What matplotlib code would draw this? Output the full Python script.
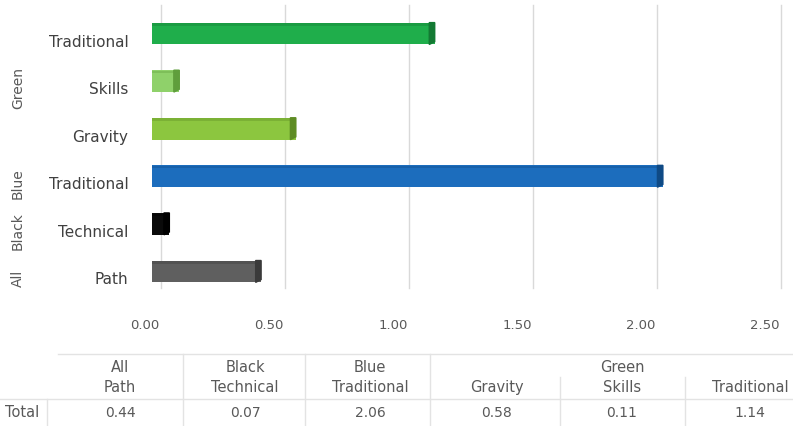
import matplotlib.pyplot as plt
from matplotlib.patches import Polygon
from matplotlib.transforms import ScaledTranslation
import numpy as np

plt.rcParams['font.family'] = ['DejaVu Sans']

# data (bottom to top as in the chart)
groups = ['All', 'Black', 'Blue', 'Green', 'Green', 'Green']
subcats = ['Path', 'Technical', 'Traditional', 'Gravity', 'Skills', 'Traditional']
values = [0.44, 0.07, 2.06, 0.58, 0.11, 1.14]
colors = ['#5f5f5f', '#0a0a0a', '#1c6dbd', '#8cc63f', '#8fd16a', '#1fae4b']
caps = ['#3a3a3a', '#000000', '#0f4a85', '#5e8c24', '#5f9e3c', '#137a33']
xticks = [0.0, 0.5, 1.0, 1.5, 2.0, 2.5]

W, H = 793, 427
fig = plt.figure(figsize=(W / 100, H / 100), dpi=100)
ax = fig.add_axes([152 / W, 1 - 301 / H, (772 - 152) / W, (301 - 6) / H])

def shift(dx, dy):
    return ScaledTranslation(dx / 100, dy / 100, fig.dpi_scale_trans)

y = np.arange(len(values))
ax.barh(y, values, height=0.46, color=colors, edgecolor='none', zorder=3)
# darker top strip and right end cap for the 3D look
cw = 0.022
for yi, v, c, cc in zip(y, values, colors, caps):
    ax.barh(yi + 0.19, v, height=0.05, color=cc, alpha=0.35, edgecolor='none', zorder=4)
    ax.add_patch(Polygon([[v - cw, yi - 0.23], [v, yi - 0.17], [v, yi + 0.23], [v - cw, yi + 0.23]],
                         closed=True, color=cc, zorder=5))

ax.set_xlim(0, 2.5)
ax.set_ylim(-0.6, 5.6)
ax.set_xticks(xticks)
ax.set_xticklabels([f'{t:.2f}' for t in xticks])
ax.set_yticks(y)
ax.set_yticklabels(subcats)
ax.tick_params(axis='x', length=0, pad=13, colors='#595959', labelsize=9.5)
ax.tick_params(axis='y', length=0, pad=17, colors='#404040', labelsize=11)
for lab in ax.get_xticklabels():
    lab.set_transform(lab.get_transform() + shift(-7, 0))
for lab in ax.get_yticklabels():
    lab.set_transform(lab.get_transform() + shift(0, -6))
# back-wall gridlines, set slightly right of the bar origin
for t in xticks:
    ax.plot([t, t], [0.04, 1.0], color='#d9d9d9', lw=1, zorder=0, clip_on=False,
            transform=ax.get_xaxis_transform() + shift(9, 0))
for s in ax.spines.values():
    s.set_visible(False)

# group labels on the left
for name, (y0, y1) in [('Green', (3, 5)), ('Blue', (2, 2)), ('Black', (1, 1)), ('All', (0, 0))]:
    yc = (y0 + y1) / 2
    ax.text(-0.54, yc, name, rotation=90, ha='center', va='center',
            fontsize=10, color='#595959', clip_on=False,
            transform=ax.transData + shift(0, -6))

# data table under the chart
def px(x, yy):
    return x / W, 1 - yy / H

col_x = [120, 245, 370, 497, 622, 750]
grp_row = ['All', 'Black', 'Blue', '', 'Green', '']
for cx, g, sc, v in zip(col_x, grp_row, subcats, values):
    if g:
        fig.text(*px(cx, 368), g, ha='center', va='center', fontsize=10.5, color='#595959')
    fig.text(*px(cx, 388), sc, ha='center', va='center', fontsize=10.5, color='#595959')
    fig.text(*px(cx, 413), f'{v:.2f}', ha='center', va='center', fontsize=10, color='#595959')
fig.text(*px(5, 413), 'Total', ha='left', va='center', fontsize=10.5, color='#595959')

lc = '#e3e3e3'
def hline(x0, x1, yy):
    fig.add_artist(plt.Line2D([x0 / W, x1 / W], [1 - yy / H, 1 - yy / H], color=lc, lw=1))
def vline(x, y0, y1):
    fig.add_artist(plt.Line2D([x / W, x / W], [1 - y0 / H, 1 - y1 / H], color=lc, lw=1))

hline(58, W, 355)
hline(0, W, 400)
vline(47, 400, 427)
for xv in [183, 305, 430]:
    vline(xv, 355, 427)
vline(560, 378, 427)
vline(685, 378, 427)

fig.savefig('out.png', dpi=100, facecolor='white')
